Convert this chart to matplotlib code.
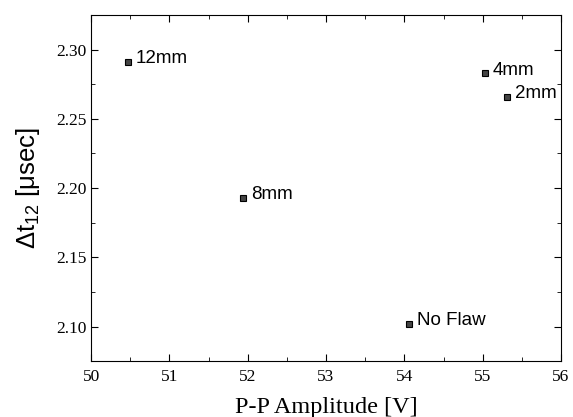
import matplotlib
matplotlib.use("Agg")
import matplotlib.pyplot as plt
from matplotlib.ticker import MultipleLocator

plt.rcParams["mathtext.fontset"] = "custom"
plt.rcParams["mathtext.rm"] = "Liberation Sans"

labels = ["12mm", "8mm", "No Flaw", "4mm", "2mm"]
amplitude = [50.47, 51.94, 54.06, 55.03, 55.31]
dt12 = [2.291, 2.193, 2.102, 2.283, 2.266]

fig = plt.figure(figsize=(5.73, 4.17), dpi=100)
ax = fig.add_axes([0.159, 0.134, 0.82, 0.83])
ax.plot(amplitude, dt12, linestyle="none", marker="s", ms=4,
        mfc="#444444", mec="black", mew=0.8)
for x, y, t in zip(amplitude, dt12, labels):
    ax.annotate(t, (x, y), xytext=(5.5, -1), textcoords="offset points",
                va="baseline", ha="left", fontsize=13.5,
                family="Liberation Sans")

ax.set_xlim(50, 56)
ax.set_ylim(2.075, 2.325)
ax.xaxis.set_major_locator(MultipleLocator(1))
ax.xaxis.set_minor_locator(MultipleLocator(0.5))
ax.yaxis.set_major_locator(MultipleLocator(0.05))
ax.yaxis.set_minor_locator(MultipleLocator(0.025))
ax.yaxis.set_major_formatter(plt.FormatStrFormatter("%.2f"))
ax.tick_params(which="both", direction="in", top=True, right=True)
ax.tick_params(which="major", length=5, labelsize=12.5)
ax.tick_params(axis="x", which="major", pad=6)
ax.tick_params(which="minor", length=3)
for lab in ax.get_xticklabels() + ax.get_yticklabels():
    lab.set_family("Liberation Serif")

ax.set_xlabel("P-P Amplitude [V]", family="Liberation Serif", fontsize=17.5,
              labelpad=8)
ax.set_ylabel(r"Δt$_\mathregular{12}$ [μsec]", family="Liberation Sans",
              fontsize=18.5, labelpad=10)

fig.savefig("out.png", dpi=100)
